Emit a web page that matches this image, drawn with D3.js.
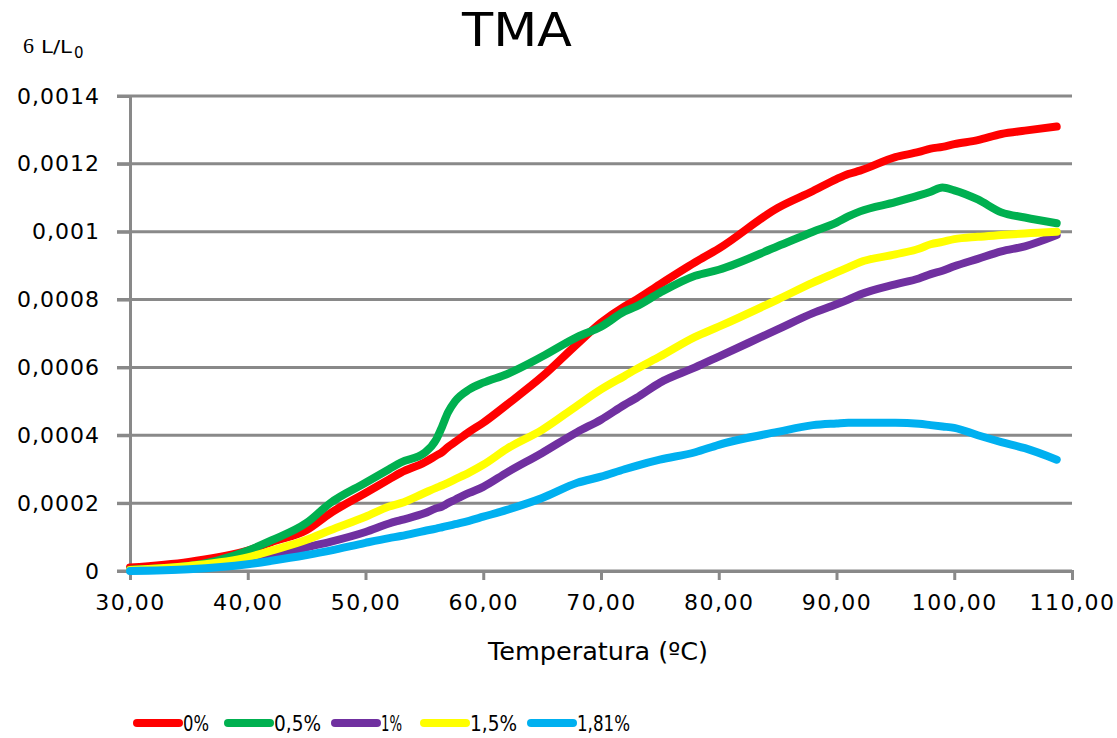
<!DOCTYPE html>
<html>
<head>
<meta charset="utf-8">
<script src="https://cdn.jsdelivr.net/npm/d3@7"></script>
<style>
  body { margin: 0; background: #fff; }
  text { font-family: "DejaVu Sans", sans-serif; fill: #000; }
</style>
</head>
<body>
<div id="chart"></div>
<script>
// temperatures (ºC) and ΔL/L0 readings per additive content
const temps = [30, 35, 40, 42, 45, 47, 50, 52, 53, 55, 56, 56.5, 57, 57.6, 58.8, 60, 62, 65, 68, 70, 72, 73, 75, 78, 80, 85, 88, 90, 91, 92, 95, 97, 98, 99, 100, 102, 104, 106, 108.7];

const red = [0.00001, 0.000027, 0.00006, 0.000085, 0.000121, 0.00017, 0.00023, 0.00027, 0.00029, 0.00032, 0.00034, 0.00035, 0.000365, 0.00038, 0.00041, 0.000437, 0.00049, 0.000573, 0.00067, 0.000732, 0.00078, 0.0008, 0.000845, 0.00091, 0.00095, 0.00107, 0.00112, 0.001155, 0.00117, 0.00118, 0.00122, 0.001235, 0.001245, 0.00125, 0.001258, 0.00127, 0.001288, 0.001298, 0.00131];
const green = [0.000004, 0.000015, 0.00006, 0.00009, 0.000142, 0.0002, 0.00026, 0.0003, 0.00032, 0.000348, 0.000387, 0.000425, 0.000467, 0.0005, 0.000535, 0.000555, 0.00058, 0.000632, 0.00069, 0.00072, 0.000765, 0.00078, 0.00082, 0.00087, 0.000888, 0.000957, 0.001, 0.001027, 0.001045, 0.00106, 0.001087, 0.001107, 0.001118, 0.00113, 0.001122, 0.001095, 0.001057, 0.001042, 0.001025];
const purple = [0.000002, 0.000008, 0.00003, 0.000045, 0.00007, 0.000086, 0.000115, 0.00014, 0.00015, 0.00017, 0.000185, 0.00019, 0.0002, 0.00021, 0.00023, 0.000248, 0.00029, 0.000348, 0.00041, 0.000446, 0.00049, 0.00051, 0.000555, 0.0006, 0.000632, 0.000712, 0.00076, 0.000786, 0.0008, 0.000815, 0.000845, 0.000862, 0.000875, 0.000885, 0.000898, 0.00092, 0.000942, 0.000957, 0.00099];
const yellow = [0.000003, 0.000015, 0.00004, 0.00006, 0.000092, 0.00012, 0.00016, 0.00019, 0.0002, 0.00023, 0.000245, 0.000252, 0.00026, 0.00027, 0.00029, 0.000313, 0.00036, 0.000416, 0.000488, 0.000535, 0.000575, 0.000595, 0.000632, 0.00069, 0.00072, 0.0008, 0.00085, 0.00088, 0.000895, 0.00091, 0.000933, 0.00095, 0.000963, 0.00097, 0.000978, 0.000985, 0.00099, 0.000995, 0.001];
const blue = [0, 0.000005, 0.00002, 0.00003, 0.000047, 0.00006, 0.000083, 0.000097, 0.000103, 0.000118, 0.000125, 0.000129, 0.000133, 0.000138, 0.000148, 0.00016, 0.00018, 0.000215, 0.00026, 0.000278, 0.0003, 0.00031, 0.000328, 0.00035, 0.000372, 0.00041, 0.00043, 0.000435, 0.000437, 0.000437, 0.000437, 0.000434, 0.00043, 0.000426, 0.000422, 0.0004, 0.00038, 0.000362, 0.000328];

const seriesNames = ["0%", "0,5%", "1%", "1,5%", "1,81%"];
const seriesColors = ["#FF0000", "#00B050", "#7030A0", "#FFFF00", "#00B0F0"];
const seriesValues = [red, green, purple, yellow, blue];

const xTicks = [30, 40, 50, 60, 70, 80, 90, 100, 110];
const yTicks = [0, 0.0002, 0.0004, 0.0006, 0.0008, 0.001, 0.0012, 0.0014];

const width = 1117, height = 738;
const margin = { top: 96, right: 45, left: 130, bottom: 167 };

const svg = d3.select("#chart").append("svg")
  .attr("width", width)
  .attr("height", height);

const x = d3.scaleLinear().domain([30, 110]).range([margin.left, 1072]);
const y = d3.scaleLinear().domain([0, 0.0014]).range([571, margin.top]);

const fmtY = v => v === 0 ? "0" : String(+v.toFixed(4)).replace(".", ",");
const fmtX = v => v.toFixed(2).replace(".", ",");

const grey = "#898989";

// grid lines
svg.append("g")
  .selectAll("line")
  .data(yTicks)
  .join("line")
  .attr("x1", 117)
  .attr("x2", x(110))
  .attr("y1", d => y(d))
  .attr("y2", d => y(d))
  .attr("stroke", grey)
  .attr("stroke-width", 3);

// y axis
const yAxis = svg.append("g")
  .attr("transform", `translate(${margin.left},0)`)
  .call(d3.axisLeft(y).tickValues(yTicks).tickFormat(fmtY).tickSize(13).tickPadding(17));
yAxis.select(".domain").attr("stroke", grey).attr("stroke-width", 3);
yAxis.selectAll(".tick line").attr("stroke", grey).attr("stroke-width", 3);
yAxis.selectAll("text")
  .attr("font-size", 22)
  .attr("letter-spacing", 1)
  .attr("font-family", "DejaVu Sans")
  .attr("fill", "#000");

// x axis
const xAxis = svg.append("g")
  .attr("transform", `translate(0,${y(0)})`)
  .call(d3.axisBottom(x).tickValues(xTicks).tickFormat(fmtX).tickSize(9).tickPadding(14));
xAxis.select(".domain").attr("stroke", grey).attr("stroke-width", 3);
xAxis.selectAll(".tick line").attr("stroke", grey).attr("stroke-width", 3);
xAxis.selectAll("text")
  .attr("font-size", 22)
  .attr("letter-spacing", 1.5)
  .attr("font-family", "DejaVu Sans")
  .attr("fill", "#000");

// series lines
const line = d3.line()
  .x(d => x(d[0]))
  .y(d => y(d[1]))
  .curve(d3.curveMonotoneX);

seriesValues.forEach((vals, i) => {
  svg.append("path")
    .datum(temps.map((t, j) => [t, vals[j]]))
    .attr("fill", "none")
    .attr("stroke", seriesColors[i])
    .attr("stroke-width", 8)
    .attr("stroke-linejoin", "round")
    .attr("stroke-linecap", "round")
    .attr("d", line);
});

// title
svg.append("text")
  .attr("x", 462)
  .attr("y", 46)
  .attr("font-family", "Open Sans")
  .attr("font-size", 46)
  .attr("textLength", 110)
  .attr("lengthAdjust", "spacingAndGlyphs")
  .text("TMA");

// y label
const yl = svg.append("text")
  .attr("y", 53)
  .attr("font-size", 18);
yl.append("tspan").attr("x", 23).attr("font-family", "Liberation Serif").attr("font-size", 22).text("6");
yl.append("tspan").attr("x", 41).attr("textLength", 31).attr("lengthAdjust", "spacingAndGlyphs").text("L/L");
yl.append("tspan").attr("x", 74).attr("font-size", 15).attr("dy", 5).text("0");

// x label
svg.append("text")
  .attr("x", 488)
  .attr("y", 660)
  .attr("font-size", 25)
  .attr("textLength", 220)
  .attr("lengthAdjust", "spacingAndGlyphs")
  .text("Temperatura (ºC)");

// legend
const legendX = [135, 226, 333, 422, 529];
const legendLen = [26, 47, 21, 47, 53];
const legend = svg.append("g");
seriesNames.forEach((name, i) => {
  const g = legend.append("g").attr("transform", `translate(${legendX[i]},723)`);
  g.append("line")
    .attr("x1", 2).attr("x2", 44)
    .attr("stroke", seriesColors[i])
    .attr("stroke-width", 8)
    .attr("stroke-linecap", "round");
  g.append("text")
    .attr("x", 48)
    .attr("y", 8)
    .attr("font-family", "Lato")
    .attr("font-size", 22)
    .attr("textLength", legendLen[i])
    .attr("lengthAdjust", "spacingAndGlyphs")
    .text(name);
});
</script>
</body>
</html>
